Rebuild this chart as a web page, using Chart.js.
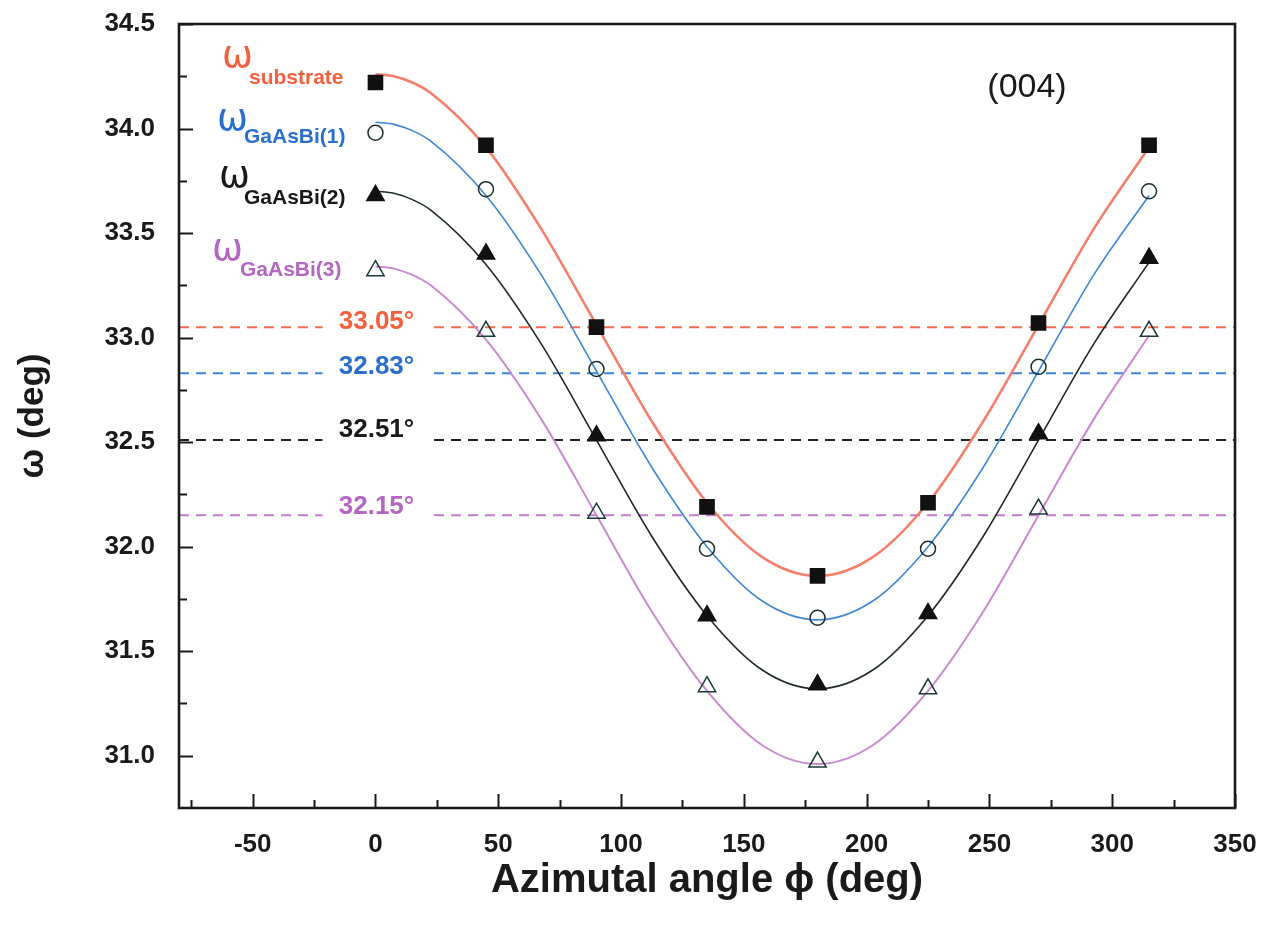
<!DOCTYPE html>
<html>
<head>
<meta charset="utf-8">
<script src="https://cdn.jsdelivr.net/npm/chart.js@4.4.1/dist/chart.umd.min.js"></script>
<style>
  html, body { margin: 0; padding: 0; background: #fff; }
  #wrap { width: 1270px; height: 927px; }
</style>
</head>
<body>
<div id="wrap"><canvas id="chart"></canvas></div>
<script>
// measured points (deg)
var phiPoints = [0, 45, 90, 135, 180, 225, 270, 315];
var omegaSub  = [34.22, 33.92, 33.05, 32.19, 31.86, 32.21, 33.07, 33.92];
var omegaBi1  = [33.98, 33.71, 32.85, 31.99, 31.66, 31.99, 32.86, 33.70];
var omegaBi2  = [33.68, 33.40, 32.53, 31.67, 31.34, 31.68, 32.54, 33.38];
var omegaBi3  = [33.32, 33.03, 32.16, 31.33, 30.97, 31.32, 32.18, 33.03];

// fitted curves
var phiCurve = [0, 7.5, 15, 22.5, 45, 67.5, 90, 112.5, 135, 157.5, 180, 202.5, 225, 247.5, 270, 292.5, 315];
var fitSub = [34.26, 34.25, 34.22, 34.17, 33.91, 33.52, 33.06, 32.60, 32.21, 31.95, 31.86, 31.95, 32.21, 32.60, 33.06, 33.52, 33.91];
var fitBi1 = [34.03, 34.02, 33.99, 33.94, 33.68, 33.30, 32.84, 32.38, 32.00, 31.74, 31.65, 31.74, 32.00, 32.38, 32.84, 33.30, 33.68];
var fitBi2 = [33.70, 33.69, 33.66, 33.61, 33.35, 32.97, 32.51, 32.05, 31.67, 31.41, 31.32, 31.41, 31.67, 32.05, 32.51, 32.97, 33.36];
var fitBi3 = [33.34, 33.33, 33.30, 33.25, 32.99, 32.61, 32.15, 31.69, 31.31, 31.05, 30.96, 31.05, 31.31, 31.69, 32.15, 32.61, 33.01];

// mean values (dashed lines)
var refValues = [33.05, 32.83, 32.51, 32.15];
var refLabels = ['33.05°', '32.83°', '32.51°', '32.15°'];

var xTicks = [-50, 0, 50, 100, 150, 200, 250, 300, 350];
var yTicks = [31.0, 31.5, 32.0, 32.5, 33.0, 33.5, 34.0, 34.5];
var xRange = [-80, 350];
var yRange = [30.75, 34.5];

var seriesNames = ['substrate', 'GaAsBi(1)', 'GaAsBi(2)', 'GaAsBi(3)'];

var lineColors  = ['#f4806c', '#3d86d8', '#1e2a2a', '#c98ad0'];
var dashColors  = ['#f36a50', '#3a86d8', '#222222', '#c27acb'];
var labelColors = ['#f2603e', '#2a6fd0', '#1a1a1a', '#b565c3'];

var FONT = "'Liberation Sans', Arial, sans-serif";

function pts(xs, ys) {
  return xs.map(function (x, i) { return { x: x, y: ys[i] }; });
}

var datasets = [];

// markers first so they end up on top
var markerStyles = [
  { pointStyle: 'rect', radius: 10, fill: '#111', border: '#111' },
  { pointStyle: 'circle', radius: 7.5, fill: 'rgba(0,0,0,0)', border: '#1a2e2e' },
  { pointStyle: 'triangle', radius: 10, fill: '#111', border: '#111' },
  { pointStyle: 'triangle', radius: 10, fill: 'rgba(0,0,0,0)', border: '#1a3a3a' },
];
[omegaSub, omegaBi1, omegaBi2, omegaBi3].forEach(function (ys, i) {
  var m = markerStyles[i];
  datasets.push({
    label: seriesNames[i],
    data: pts(phiPoints, ys),
    showLine: false,
    pointStyle: m.pointStyle,
    pointRadius: m.radius,
    pointBackgroundColor: m.fill,
    pointBorderColor: m.border,
    pointBorderWidth: 1.5,
  });
});

var curveWidths = [2.6, 1.6, 1.6, 2.0];
[fitSub, fitBi1, fitBi2, fitBi3].forEach(function (ys, i) {
  datasets.push({
    label: seriesNames[i] + ' fit',
    data: pts(phiCurve, ys),
    showLine: true,
    borderColor: lineColors[i],
    borderWidth: curveWidths[i],
    pointRadius: 0,
    cubicInterpolationMode: 'monotone',
  });
});

refValues.forEach(function (v, i) {
  datasets.push({
    label: refLabels[i],
    data: [{ x: xRange[0], y: v }, { x: xRange[1], y: v }],
    showLine: true,
    borderColor: dashColors[i],
    borderWidth: 2,
    borderDash: [10, 7],
    pointRadius: 0,
  });
});

// cut the dashed lines and write the values over them
var refLabelPlugin = {
  id: 'refLabels',
  afterDatasetsDraw: function (chart) {
    var ctx = chart.ctx;
    var xs = chart.scales.x, ys = chart.scales.y;
    var cx = xs.getPixelForValue(0);
    var offsets = [-5, -6, -10, -8];
    ctx.save();
    refValues.forEach(function (v, i) {
      var py = ys.getPixelForValue(v);
      ctx.fillStyle = '#fff';
      ctx.fillRect(cx - 53, py - 4, 106, 8);
      ctx.font = 'bold 26px ' + FONT;
      ctx.fillStyle = labelColors[i];
      ctx.textAlign = 'center';
      ctx.textBaseline = 'middle';
      ctx.fillText(refLabels[i], cx + 1, py + offsets[i]);
    });
    ctx.restore();
  },
};

// frame, inward ticks, series names and the (004) tag
var framePlugin = {
  id: 'frame',
  afterDraw: function (chart) {
    var ctx = chart.ctx;
    var a = chart.chartArea;
    var xs = chart.scales.x, ys = chart.scales.y;
    ctx.save();
    ctx.strokeStyle = '#1a1a1a';
    ctx.lineWidth = 2;
    ctx.beginPath();
    xTicks.forEach(function (t) {
      var px = Math.round(xs.getPixelForValue(t)) + 0.5;
      ctx.moveTo(px, a.bottom); ctx.lineTo(px, a.bottom - 14);
    });
    for (var t = xRange[0] + 5; t < xRange[1]; t += 50) {
      var px = Math.round(xs.getPixelForValue(t)) + 0.5;
      ctx.moveTo(px, a.bottom); ctx.lineTo(px, a.bottom - 8);
    }
    yTicks.forEach(function (t) {
      var py = Math.round(ys.getPixelForValue(t)) + 0.5;
      ctx.moveTo(a.left, py); ctx.lineTo(a.left + 14, py);
    });
    for (var u = yRange[0] + 0.5; u < yRange[1]; u += 0.5) {
      var py2 = Math.round(ys.getPixelForValue(u)) + 0.5;
      ctx.moveTo(a.left, py2); ctx.lineTo(a.left + 8, py2);
    }
    ctx.stroke();
    ctx.lineWidth = 2.6;
    ctx.strokeRect(a.left, a.top, a.right - a.left, a.bottom - a.top);

    // series names: omega with subscript
    var spots = [
      { x: 222, y: 67, sx: 249, sy: 84 },
      { x: 217, y: 130, sx: 244, sy: 143 },
      { x: 219, y: 187, sx: 244, sy: 204 },
      { x: 212, y: 260, sx: 240, sy: 276 },
    ];
    ctx.textAlign = 'left';
    ctx.textBaseline = 'alphabetic';
    spots.forEach(function (s, i) {
      ctx.fillStyle = labelColors[i];
      ctx.font = "37px 'DejaVu Sans', sans-serif";
      ctx.fillText('ω', s.x, s.y);
      ctx.font = 'bold 21px ' + FONT;
      ctx.fillText(seriesNames[i], s.sx, s.sy);
    });

    ctx.fillStyle = '#1a1a1a';
    ctx.font = '34px ' + FONT;
    ctx.textAlign = 'center';
    ctx.fillText('(004)', 1027, 97);
    ctx.restore();
  },
};

new Chart(document.getElementById('chart'), {
  type: 'scatter',
  data: { datasets: datasets },
  options: {
    responsive: true,
    maintainAspectRatio: false,
    animation: false,
    layout: { padding: { top: 24, right: 35, left: 0, bottom: 0 } },
    plugins: {
      legend: { display: false },
      tooltip: { enabled: false },
    },
    scales: {
      x: {
        type: 'linear',
        min: xRange[0],
        max: xRange[1],
        grid: { display: false },
        border: { display: false },
        afterBuildTicks: function (scale) {
          scale.ticks = xTicks.map(function (v) { return { value: v }; });
        },
        afterFit: function (scale) {
          scale.height = 119;
          scale.paddingLeft = 0;
          scale.paddingRight = 0;
        },
        ticks: {
          padding: 13,
          color: '#1a1a1a',
          font: { family: FONT, size: 26, weight: 'bold' },
          maxRotation: 0,
          callback: function (v) { return String(v); },
        },
        title: {
          display: true,
          text: 'Azimutal angle ϕ (deg)',
          color: '#1a1a1a',
          font: { family: FONT, size: 40, weight: 'bold' },
          padding: { top: 0, bottom: 22 },
        },
      },
      y: {
        type: 'linear',
        min: yRange[0],
        max: yRange[1],
        grid: { display: false },
        border: { display: false },
        afterBuildTicks: function (scale) {
          scale.ticks = yTicks.map(function (v) { return { value: v }; });
        },
        afterFit: function (scale) {
          scale.width = 179;
          scale.paddingTop = 0;
          scale.paddingBottom = 0;
        },
        ticks: {
          padding: 16,
          color: '#1a1a1a',
          font: { family: FONT, size: 26, weight: 'bold' },
          callback: function (v) { return v.toFixed(1); },
        },
        title: {
          display: true,
          text: 'ω (deg)',
          color: '#1a1a1a',
          font: { family: FONT, size: 35, weight: 'bold' },
          padding: { top: 12, bottom: 0 },
        },
      },
    },
  },
  plugins: [refLabelPlugin, framePlugin],
});
</script>
</body>
</html>
